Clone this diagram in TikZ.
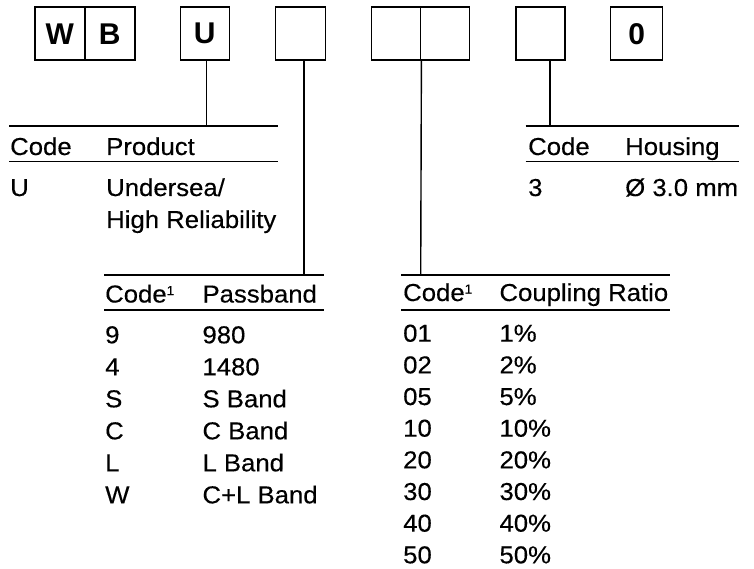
\documentclass[tikz,border=0pt]{standalone}
\usepackage{fontspec}
\setmainfont{Liberation Sans}[FakeStretch=1.05,FakeBold=0.3]
\newfontfamily\boxfont{Liberation Sans}
\usetikzlibrary{calc}
\tikzset{
  codebox/.style={draw, line width=1.4pt, minimum width=50pt, minimum height=53pt, inner sep=0pt, font=\boxfont\bfseries\fontsize{30}{30}\selectfont},
  cell/.style={anchor=base west, inner sep=0pt, font=\fontsize{24.5}{28}\selectfont},
  rule/.style={line width=1.4pt},
}
\newcommand{\supone}{\raisebox{7.5pt}{\fontsize{13}{13}\selectfont 1}}
\begin{document}
\begin{tikzpicture}[x=1pt,y=-1pt]
\useasboundingbox (0,0) rectangle (754,569);
% boxes
\node[codebox] (bW) at (59.8,33.7) {W};
\node[codebox] (bB) at (109.8,33.7) {B};
\node[codebox, minimum width=49pt] (bU) at (204.7,33.7) {U};
\node[codebox] (b4) at (300.3,33.7) {};
\node[codebox, minimum width=49pt] (b5a) at (396.2,33.7) {};
\node[codebox, minimum width=49pt] (b5b) at (445.2,33.7) {};
\node[codebox, minimum width=49pt] (b6) at (540.3,33.7) {};
\node[codebox, minimum width=52pt] (b7) at (636.7,33.7) {0};
% junction coordinates
\coordinate (jU) at (206.7,126);
\coordinate (j4) at (304,275);
\coordinate (j5) at (420.7,275);
\coordinate (j6) at (550,126);
% product table
\coordinate (pL1) at (9.3,126); \coordinate (pR1) at (278,126);
\coordinate (pL2) at (9.3,161.7); \coordinate (pR2) at (278,161.7);
\draw[rule] (pL1) -- (pR1);
\draw[rule] (pL2) -- (pR2);
\draw[rule] (bU.south -| jU) -- (jU);
\node[cell] (pc) at (10,155) {Code};
\node[cell] (pp) at (106,155) {Product};
\node[cell] (pU) at (10,196) {U};
\node[cell] (pU1) at (106,196) {Undersea/};
\node[cell] (pU2) at (106,228) {High Reliability};
% housing table
\coordinate (hL1) at (525.7,126); \coordinate (hR1) at (739,126);
\coordinate (hL2) at (525.7,161.7); \coordinate (hR2) at (739,161.7);
\draw[rule] (hL1) -- (hR1);
\draw[rule] (hL2) -- (hR2);
\draw[rule] (b6.south -| j6) -- (j6);
\node[cell] (hc) at (528,155) {Code};
\node[cell] (hh) at (625,155) {Housing};
\node[cell] (h3) at (528,196) {3};
\node[cell] (h3v) at (625,196) {Ø 3.0 mm};
% passband table
\coordinate (bL1) at (104,275); \coordinate (bR1) at (324,275);
\coordinate (bL2) at (104,310); \coordinate (bR2) at (324,310);
\draw[rule] (bL1) -- (bR1);
\draw[rule] (bL2) -- (bR2);
\draw[rule] (b4.south -| j4) -- (j4);
\node[cell] (bc) at (105,302.5) {Code\supone};
\node[cell] (bp) at (202.3,302.5) {Passband};
\foreach \c/\v [count=\i from 0] in {9/980,4/1480,S/S Band,C/C Band,L/L Band,W/C+L Band}{
  \node[cell] (bk\i) at (105,343.3+32*\i) {\c};
  \node[cell] (bv\i) at (202.3,343.3+32*\i) {\v};
}
% coupling table
\coordinate (cL1) at (401,275); \coordinate (cR1) at (670,275);
\coordinate (cL2) at (401,310); \coordinate (cR2) at (670,310);
\draw[rule] (cL1) -- (cR1);
\draw[rule] (cL2) -- (cR2);
\draw[rule] (b5a.south east) -- (j5);
\node[cell] (cc) at (403,301) {Code\supone};
\node[cell] (cp) at (499.3,301) {Coupling Ratio};
\foreach \c/\v [count=\i from 0] in {01/1\%,02/2\%,05/5\%,10/10\%,20/20\%,30/30\%,40/40\%,50/50\%}{
  \node[cell] (ck\i) at (403,341.7+31.66*\i) {\c};
  \node[cell] (cv\i) at (499.3,341.7+31.66*\i) {\v};
}
\end{tikzpicture}
\end{document}
